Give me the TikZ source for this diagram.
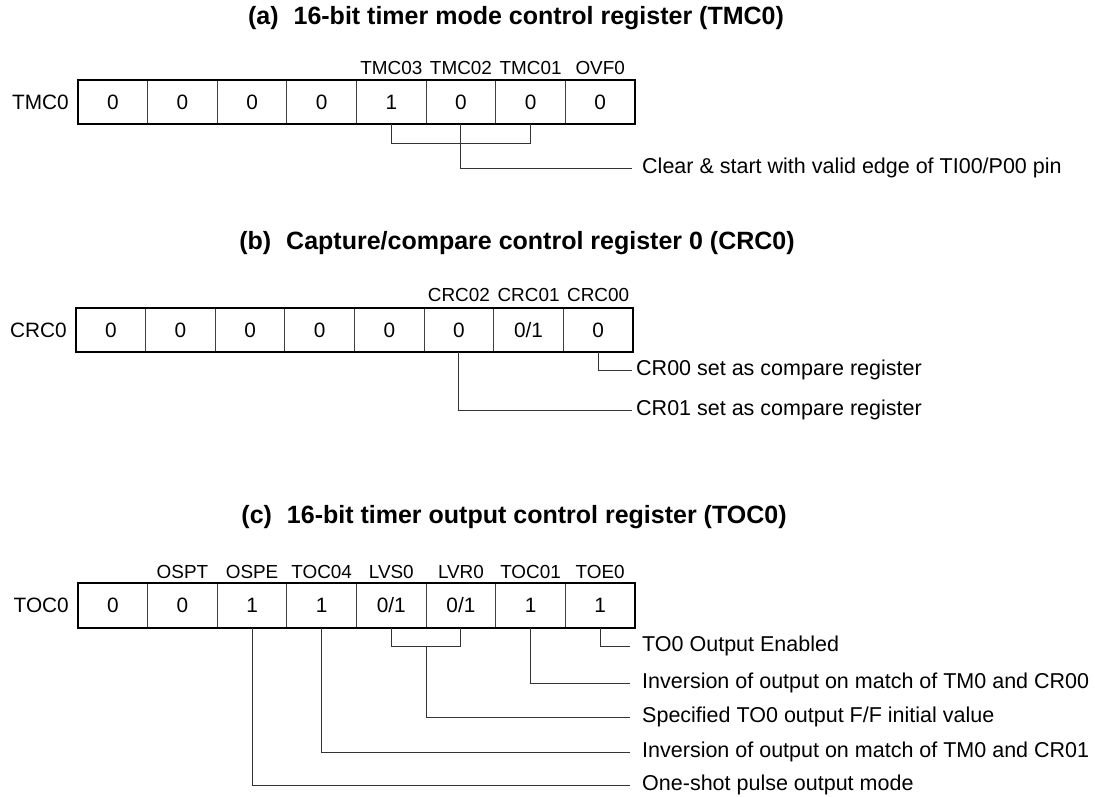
\documentclass[tikz,border=0pt]{standalone}
\usepackage{fontspec}
\setmainfont{Liberation Sans}
\usetikzlibrary{positioning}
\newcommand{\valfont}{\fontsize{20.8}{24}\selectfont}
\newcommand{\bitfont}{\fontsize{18.9}{22}\selectfont}
\newcommand{\descfont}{\fontsize{21.5}{24}\selectfont}
\newcommand{\ttlfont}{\fontsize{25}{28}\selectfont\bfseries}
\begin{document}
\begin{tikzpicture}[x=1pt,y=-1pt,
  cell/.style={draw=black!75, line width=0.9pt, minimum width=69.625pt, minimum height=44pt, inner sep=0pt, outer sep=0pt, font=\valfont},
  outer/.style={draw=black, line width=2.6pt},
  regname/.style={anchor=east, inner sep=0pt, font=\valfont},
  bitlbl/.style={inner sep=0pt, font=\bitfont},
  desc/.style={anchor=west, inner ysep=0pt, inner xsep=10pt, font=\descfont},
  conn/.style={draw=black!80, line width=0.9pt},
  ttl/.style={inner sep=0pt, font=\ttlfont}]
\useasboundingbox (0,0) rectangle (1095,797);

% ---------- (a)
\node[ttl] (ta) at (516,18) {(a)\hspace{0.6em}16-bit timer mode control register (TMC0)};
\node[regname] (na) at (69,102) {TMC0};
\node[cell] (a1) at (112.81,102) {0};
\node[cell, right=0pt of a1] (a2) {0};
\node[cell, right=0pt of a2] (a3) {0};
\node[cell, right=0pt of a3] (a4) {0};
\node[cell, right=0pt of a4] (a5) {1};
\node[cell, right=0pt of a5] (a6) {0};
\node[cell, right=0pt of a6] (a7) {0};
\node[cell, right=0pt of a7] (a8) {0};
\draw[outer] (a1.north west) rectangle (a8.south east);
\coordinate (ya) at (0,68);
\node[bitlbl] (la5) at (a5 |- ya) {TMC03};
\node[bitlbl] (la6) at (a6 |- ya) {TMC02};
\node[bitlbl] (la7) at (a7 |- ya) {TMC01};
\node[bitlbl] (la8) at (a8 |- ya) {OVF0};
\node[desc] (da) at (632,168) {Clear \& start with valid edge of TI00/P00 pin};
\draw[conn] (a5.south) -- ++(0,19) -| (a7.south);
\draw[conn] (a6.south) |- (da.west);

% ---------- (b)
\node[ttl] (tb) at (517,243) {(b)\hspace{0.6em}Capture/compare control register 0 (CRC0)};
\node[regname] (nb) at (67,330) {CRC0};
\node[cell] (b1) at (110.81,330) {0};
\node[cell, right=0pt of b1] (b2) {0};
\node[cell, right=0pt of b2] (b3) {0};
\node[cell, right=0pt of b3] (b4) {0};
\node[cell, right=0pt of b4] (b5) {0};
\node[cell, right=0pt of b5] (b6) {0};
\node[cell, right=0pt of b6] (b7) {0/1};
\node[cell, right=0pt of b7] (b8) {0};
\draw[outer] (b1.north west) rectangle (b8.south east);
\coordinate (yb) at (0,295);
\node[bitlbl] (lb6) at (b6 |- yb) {CRC02};
\node[bitlbl] (lb7) at (b7 |- yb) {CRC01};
\node[bitlbl] (lb8) at (b8 |- yb) {CRC00};
\node[desc, inner xsep=4pt] (db1) at (632,370) {CR00 set as compare register};
\node[desc, inner xsep=4pt] (db2) at (632,410) {CR01 set as compare register};
\draw[conn] (b8.south) |- (db1.west);
\draw[conn] (b6.south) |- (db2.west);

% ---------- (c)
\node[ttl] (tc) at (514,517) {(c)\hspace{0.6em}16-bit timer output control register (TOC0)};
\node[regname] (nc) at (69,605.5) {TOC0};
\node[cell, minimum height=45pt] (c1) at (112.81,605.5) {0};
\node[cell, minimum height=45pt, right=0pt of c1] (c2) {0};
\node[cell, minimum height=45pt, right=0pt of c2] (c3) {1};
\node[cell, minimum height=45pt, right=0pt of c3] (c4) {1};
\node[cell, minimum height=45pt, right=0pt of c4] (c5) {0/1};
\node[cell, minimum height=45pt, right=0pt of c5] (c6) {0/1};
\node[cell, minimum height=45pt, right=0pt of c6] (c7) {1};
\node[cell, minimum height=45pt, right=0pt of c7] (c8) {1};
\draw[outer] (c1.north west) rectangle (c8.south east);
\coordinate (yc) at (0,572);
\node[bitlbl] (lc2) at (c2 |- yc) {OSPT};
\node[bitlbl] (lc3) at (c3 |- yc) {OSPE};
\node[bitlbl] (lc4) at (c4 |- yc) {TOC04};
\node[bitlbl] (lc5) at (c5 |- yc) {LVS0};
\node[bitlbl] (lc6) at (c6 |- yc) {LVR0};
\node[bitlbl] (lc7) at (c7 |- yc) {TOC01};
\node[bitlbl] (lc8) at (c8 |- yc) {TOE0};
\node[desc, inner xsep=12pt] (dc1) at (630,646) {TO0 Output Enabled};
\node[desc, inner xsep=12pt] (dc2) at (630,683) {Inversion of output on match of TM0 and CR00};
\node[desc, inner xsep=12pt] (dc3) at (630,717) {Specified TO0 output F/F initial value};
\node[desc, inner xsep=12pt] (dc4) at (630,752) {Inversion of output on match of TM0 and CR01};
\node[desc, inner xsep=12pt] (dc5) at (630,785) {One-shot pulse output mode};
\draw[conn] (c8.south) |- (dc1.west);
\draw[conn] (c7.south) |- (dc2.west);
\draw[conn] (c5.south) -- ++(0,18) -| (c6.south);
\draw[conn] ([yshift=-18pt]c5.south east) |- (dc3.west);
\draw[conn] (c4.south) |- (dc4.west);
\draw[conn] (c3.south) |- (dc5.west);
\end{tikzpicture}
\end{document}
